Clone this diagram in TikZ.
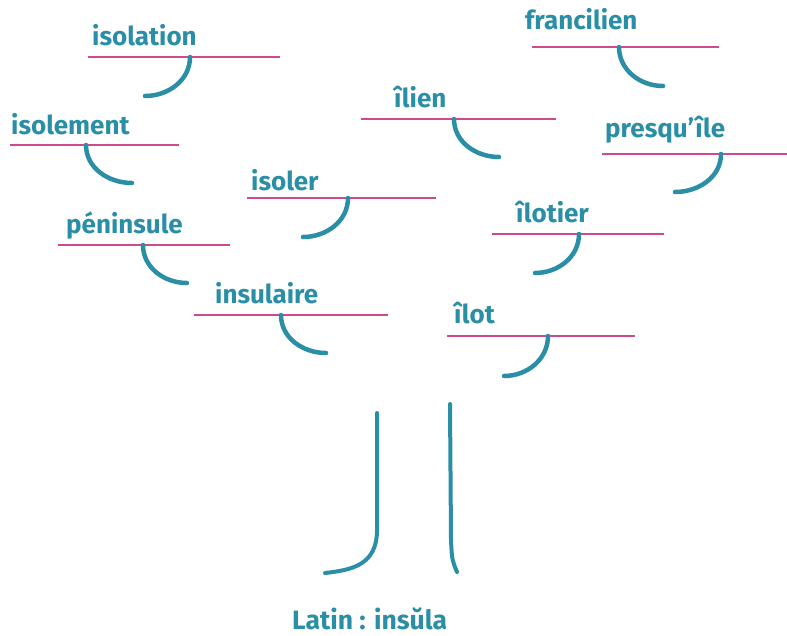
\documentclass[tikz,border=0pt]{standalone}
\usepackage{fontspec}
\setmainfont{Fira Sans}
\definecolor{teal}{HTML}{2A8FA6}
\definecolor{rose}{HTML}{CF4A8D}
\begin{document}
\begin{tikzpicture}[x=1pt,y=-1pt,
  word/.style={anchor=base west,inner sep=0pt,text=teal,font=\fontsize{26}{30}\selectfont\bfseries},
  rule/.style={draw=rose,line width=2.2pt},
  hook/.style={draw=teal,line width=4.5pt,line cap=round},
  trunk/.style={draw=teal,line width=4pt,line cap=round}]
\useasboundingbox (0,0) rectangle (787,635);
% each word: name / text / text x / baseline / rule from / rule to / rule y / hook x / hook end x / hook end y / arrival angle
\foreach \nm/\txt/\tx/\ty/\la/\lb/\ly/\hx/\ex/\ey/\ia in {
  isolation/isolation/92/45/88/280/57/190/145/96/0,
  francilien/francilien/525/29/532/719/47/619/663/86/180,
  ilien/îlien/394/107/361/556/119/454/499/157/180,
  isolement/isolement/11/134/10/179/145/86/132/183/180,
  presquile/presqu’île/605/137/602/787/154/721/675/192/0,
  isoler/isoler/251/190/247/436/198/348/303/237/0,
  ilotier/îlotier/516/222/492/664/234/579/535/273/0,
  peninsule/péninsule/66/233/58/230/245/143/187/283/180,
  insulaire/insulaire/215/303/194/388/315/281/326/353/180,
  ilot/îlot/454/323/447/635/336/548/504/376/0}{
  \node[word] (\nm) at (\tx,\ty) {\txt};
  \coordinate (\nm-a) at (\la,\ly);
  \coordinate (\nm-b) at (\lb,\ly);
  \coordinate (\nm-h) at (\hx,\ly);
  \coordinate (\nm-e) at (\ex,\ey);
  \draw[rule] (\nm-a) -- (\nm-b);
  \draw[hook] (\nm-h) to[out=-90,in=\ia] (\nm-e);
}
% trunk
\coordinate (tl-top) at (377,413);
\coordinate (tl-mid) at (377,530);
\coordinate (tl-end) at (325,573);
\coordinate (tr-top) at (450,404);
\coordinate (tr-mid) at (451,540);
\coordinate (tr-end) at (457,572);
\draw[trunk] (tl-top) -- (tl-mid) .. controls (377,565) and (352,570) .. (tl-end);
\draw[trunk] (tr-top) -- (tr-mid) .. controls (452,560) .. (tr-end);
\node[word,text depth=0pt,font=\fontsize{26.5}{30}\selectfont\bfseries] (latin) at (292,629) {Latin : insŭla};
\end{tikzpicture}
\end{document}
